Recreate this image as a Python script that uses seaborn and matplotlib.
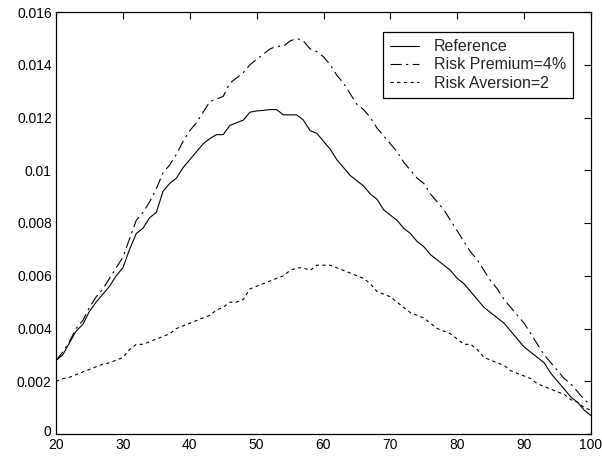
import numpy as np
import pandas as pd
import matplotlib
matplotlib.use("Agg")
import matplotlib.pyplot as plt
import matplotlib.transforms as mtransforms
import seaborn as sns

# Age grid and the three simulated paths
ages = list(range(20, 101))

reference = [
    0.00279, 0.0030, 0.00345, 0.0039, 0.00415, 0.00465, 0.0050, 0.0053, 0.0056, 0.0060,
    0.0063, 0.0070, 0.0076, 0.0078, 0.0082, 0.0084, 0.0092, 0.0095, 0.0097, 0.0101,
    0.0104, 0.0107, 0.0110, 0.0112, 0.01135, 0.01135, 0.0117, 0.0118, 0.0119, 0.0122,
    0.01225, 0.01227, 0.0123, 0.0123, 0.0121, 0.0121, 0.0121, 0.0119, 0.0115, 0.0114,
    0.0111, 0.0108, 0.0104, 0.0101, 0.0098, 0.0096, 0.0094, 0.0091, 0.0089, 0.0085,
    0.0083, 0.0081, 0.0078, 0.0076, 0.0073, 0.0071, 0.0068, 0.0066, 0.0064, 0.0062,
    0.0059, 0.0057, 0.0054, 0.0051, 0.0048, 0.0046, 0.0044, 0.0042, 0.0039, 0.0036,
    0.0033, 0.0031, 0.0029, 0.0027, 0.0023, 0.0020, 0.0017, 0.0014, 0.0012, 0.0009,
    0.0007,
]

risk_premium = [
    0.00279, 0.0031, 0.0035, 0.0040, 0.0043, 0.0048, 0.0052, 0.0055, 0.0059, 0.0063,
    0.0067, 0.0074, 0.0081, 0.0084, 0.0088, 0.0093, 0.0099, 0.0102, 0.0106, 0.0111,
    0.0115, 0.0118, 0.0122, 0.0126, 0.0127, 0.0128, 0.0133, 0.0135, 0.0137, 0.0140,
    0.0142, 0.0144, 0.0146, 0.0147, 0.0147, 0.0149, 0.0150, 0.0149, 0.0146, 0.0145,
    0.0143, 0.0140, 0.0136, 0.0133, 0.0129, 0.0125, 0.0123, 0.0120, 0.0116, 0.0113,
    0.0110, 0.0107, 0.0103, 0.0100, 0.0097, 0.0095, 0.0091, 0.0088, 0.0085, 0.0081,
    0.0077, 0.0073, 0.0069, 0.0066, 0.0062, 0.0058, 0.0055, 0.0051, 0.0048, 0.0045,
    0.0042, 0.0038, 0.0034, 0.0030, 0.0027, 0.0024, 0.0021, 0.0019, 0.0016, 0.0013,
    0.0011,
]

risk_aversion = [
    0.0020, 0.0021, 0.00215, 0.00225, 0.00235, 0.00245, 0.00255, 0.00265, 0.0027, 0.0028,
    0.0029, 0.0032, 0.0034, 0.0034, 0.0035, 0.0036, 0.0037, 0.0038, 0.0040, 0.0041,
    0.0042, 0.0043, 0.0044, 0.0045, 0.0047, 0.0048, 0.0050, 0.0050, 0.0051, 0.0055,
    0.0056, 0.0057, 0.0058, 0.0059, 0.0060, 0.0062, 0.0063, 0.0063, 0.0062, 0.0064,
    0.0064, 0.0064, 0.0063, 0.0062, 0.0061, 0.0060, 0.0059, 0.0057, 0.0054, 0.0053,
    0.0052, 0.0050, 0.0048, 0.0046, 0.0045, 0.0044, 0.0042, 0.0040, 0.0039, 0.0038,
    0.0036, 0.0034, 0.0034, 0.0032, 0.0029, 0.0028, 0.0027, 0.0026, 0.0024, 0.0023,
    0.0022, 0.0021, 0.0019, 0.0018, 0.0017, 0.0016, 0.0015, 0.0013, 0.0012, 0.0010,
    0.0009,
]

series_names = ["Reference", "Risk Premium=4%", "Risk Aversion=2"]

x_ticks = [20, 30, 40, 50, 60, 70, 80, 90, 100]
y_ticks = [0, 0.002, 0.004, 0.006, 0.008, 0.01, 0.012, 0.014, 0.016]
y_tick_labels = ["0", "0.002", "0.004", "0.006", "0.008", "0.01", "0.012", "0.014", "0.016"]

# Long-form table for seaborn
df = pd.concat([
    pd.DataFrame({"age": ages, "value": reference, "series": series_names[0]}),
    pd.DataFrame({"age": ages, "value": risk_premium, "series": series_names[1]}),
    pd.DataFrame({"age": ages, "value": risk_aversion, "series": series_names[2]}),
], ignore_index=True)

sns.set_theme(style="white")
plt.rcParams["font.family"] = ["Liberation Sans", "DejaVu Sans"]
plt.rcParams["xtick.direction"] = "in"
plt.rcParams["ytick.direction"] = "in"

fig = plt.figure(figsize=(6.02, 4.58), dpi=100)
ax = fig.add_axes([56 / 602, 1 - 434 / 458, 535 / 602, 422 / 458])

dash_styles = {
    "Reference": "",
    "Risk Premium=4%": (10, 4, 2, 4),
    "Risk Aversion=2": (3, 3),
}

sns.lineplot(
    data=df, x="age", y="value", style="series", dashes=dash_styles,
    color="black", linewidth=0.8, ax=ax, legend=True,
)

ax.set_xlim(20, 100)
ax.set_ylim(0, 0.016)
ax.set_xticks(x_ticks)
ax.set_xticklabels([str(t) for t in x_ticks])
ax.set_yticks(y_ticks)
ax.set_yticklabels(y_tick_labels)
ax.set_xlabel("")
ax.set_ylabel("")

ax.tick_params(axis="both", which="both", direction="in", length=5, width=0.8,
               colors="black", labelsize=10, top=True, right=True, pad=3)

# lift the zero label a little so it clears the "20" beneath it
zero_label = ax.yaxis.get_major_ticks()[0].label1
zero_label.set_transform(zero_label.get_transform()
                         + mtransforms.ScaledTranslation(-1 / 100, 4 / 100, fig.dpi_scale_trans))

for side in ax.spines.values():
    side.set_visible(True)
    side.set_color("black")
    side.set_linewidth(0.9)

leg = ax.legend(
    loc="upper right", bbox_to_anchor=((573 - 56) / 535, (434 - 32) / 422),
    borderaxespad=0, fontsize=11.5, frameon=True, fancybox=False, framealpha=1,
    edgecolor="black", handlelength=1.8, handletextpad=0.9, borderpad=0.45,
    labelspacing=0.2,
)
leg.get_frame().set_linewidth(0.9)

fig.savefig("out.png", dpi=100)
